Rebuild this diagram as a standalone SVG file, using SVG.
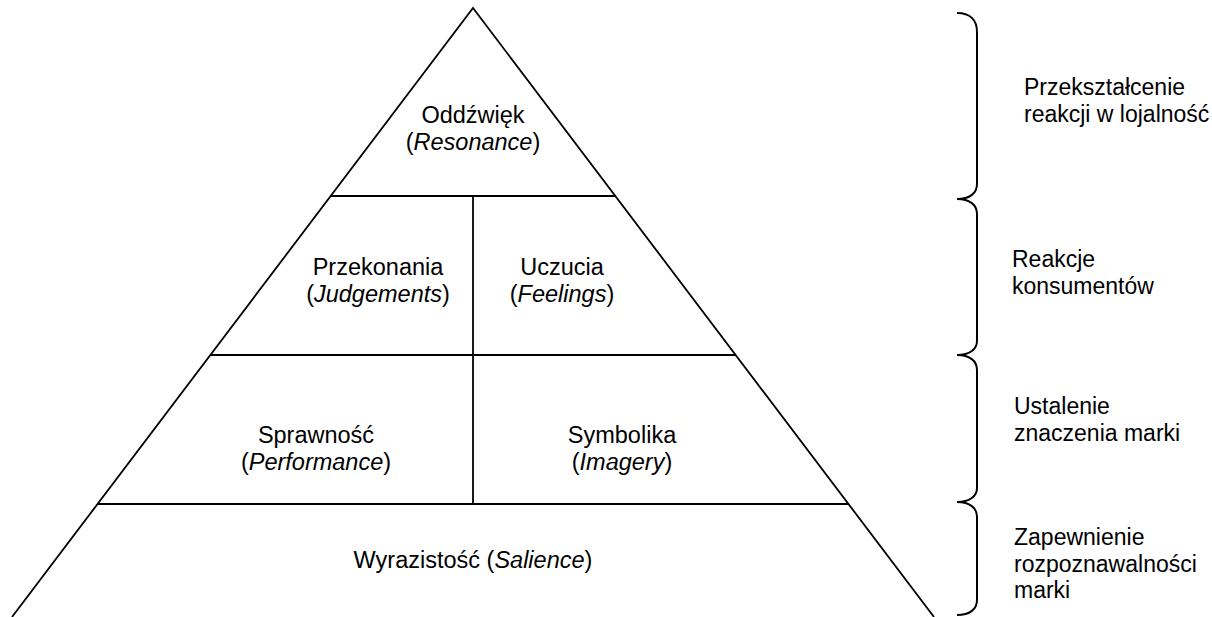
<svg xmlns="http://www.w3.org/2000/svg" width="1212" height="617" viewBox="0 0 1212 617">
  <style>
    .edge { fill: none; stroke: #000; stroke-width: 1.8; stroke-linejoin: miter; }
    .brace { fill: none; stroke: #000; stroke-width: 2; }
    text { font-family: "Liberation Sans", Arial, sans-serif; font-size: 23.5px; fill: #000; }
    .side { font-size: 23px; }
    .mid { text-anchor: middle; }
    .it { font-style: italic; }
  </style>
  <rect width="1212" height="617" fill="#fff"/>

  <!-- pyramid outline and dividers -->
  <g id="connectors">
    <path class="edge" d="M12,617 L473,8 L934,617"/>
    <line class="edge" x1="330.5" y1="196" x2="615.5" y2="196"/>
    <line class="edge" x1="210.5" y1="355" x2="735.5" y2="355"/>
    <line class="edge" x1="97.5" y1="504" x2="848.5" y2="504"/>
    <line class="edge" x1="473" y1="196" x2="473" y2="504"/>
  </g>

  <!-- pyramid levels -->
  <g id="resonance">
    <text class="mid" x="473" y="123">Oddźwięk</text>
    <text class="mid" x="473" y="150">(<tspan class="it">Resonance</tspan>)</text>
  </g>
  <g id="judgements">
    <text class="mid" x="378" y="275">Przekonania</text>
    <text class="mid" x="378" y="302">(<tspan class="it">Judgements</tspan>)</text>
  </g>
  <g id="feelings">
    <text class="mid" x="562" y="275">Uczucia</text>
    <text class="mid" x="562" y="302">(<tspan class="it">Feelings</tspan>)</text>
  </g>
  <g id="performance">
    <text class="mid" x="316" y="443">Sprawność</text>
    <text class="mid" x="316" y="470">(<tspan class="it">Performance</tspan>)</text>
  </g>
  <g id="imagery">
    <text class="mid" x="622" y="443">Symbolika</text>
    <text class="mid" x="622" y="470">(<tspan class="it">Imagery</tspan>)</text>
  </g>
  <g id="salience">
    <text class="mid" x="473" y="568">Wyrazistość (<tspan class="it">Salience</tspan>)</text>
  </g>

  <!-- braces with stage labels -->
  <g id="stage-loyalty">
    <path class="brace" d="M957,13 C970,13 977,20 977,32 L977,184 C977,193 970,199 957,199"/>
    <text class="side" x="1024" y="95">Przekształcenie</text>
    <text class="side" x="1024" y="122">reakcji w lojalność</text>
  </g>
  <g id="stage-responses">
    <path class="brace" d="M957,199 C970,199 977,205 977,214 L977,341 C977,349 970,355 957,355"/>
    <text class="side" x="1012" y="267">Reakcje</text>
    <text class="side" x="1012" y="294">konsumentów</text>
  </g>
  <g id="stage-meaning">
    <path class="brace" d="M957,355 C970,355 977,361 977,370 L977,488 C977,496 970,502 957,502"/>
    <text class="side" x="1014" y="414">Ustalenie</text>
    <text class="side" x="1014" y="441">znaczenia marki</text>
  </g>
  <g id="stage-identity">
    <path class="brace" d="M957,502 C970,502 977,508 977,517 L977,600 C977,609 970,615 957,615"/>
    <text class="side" x="1014" y="545">Zapewnienie</text>
    <text class="side" x="1014" y="572">rozpoznawalności</text>
    <text class="side" x="1014" y="598">marki</text>
  </g>
</svg>
